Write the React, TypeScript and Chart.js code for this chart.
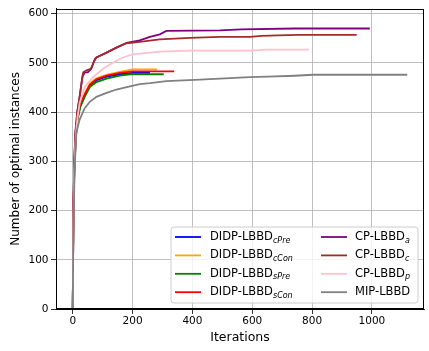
import React, { useEffect, useRef } from 'react';
import { Chart, registerables } from 'chart.js';
Chart.register(...registerables);

const FONT = "'DejaVu Sans', sans-serif";

// ---- data ----
const dCPreX = [0, 2, 5, 10, 16, 25, 40, 57, 79, 113, 157, 200, 258];
const dCPreY = [0, 178, 278, 348, 388, 413, 435, 455, 465, 472, 477, 480, 480];
const dCConX = [0, 2, 5, 10, 16, 25, 40, 57, 79, 113, 157, 200, 282];
const dCConY = [0, 180, 280, 350, 390, 415, 437, 458, 469, 476, 482, 487, 487];
const dSPreX = [0, 2, 5, 10, 16, 25, 40, 57, 79, 113, 157, 191, 240, 304];
const dSPreY = [0, 175, 275, 345, 385, 410, 431, 451, 461, 468, 474, 477, 477, 477];
const dSConX = [0, 2, 5, 10, 16, 25, 40, 57, 79, 113, 157, 200, 339];
const dSConY = [0, 185, 285, 352, 392, 418, 436, 456, 467, 474, 480, 483, 483];
const cpAX = [0, 2, 5, 9, 15, 23, 32, 40, 50, 62, 74, 79, 113, 146, 180, 224, 258, 291, 313, 492, 564, 742, 993];
const cpAY = [0, 200, 300, 360, 400, 431, 471, 481, 481, 488, 508, 511, 521, 531, 541, 546, 553, 558, 565, 566, 568, 570, 570];
const cpCX = [0, 2, 5, 9, 15, 23, 32, 35, 46, 60, 74, 79, 113, 146, 180, 224, 291, 391, 492, 592, 631, 686, 753, 949];
const cpCY = [0, 200, 300, 360, 400, 431, 471, 481, 485, 488, 506, 511, 521, 531, 540, 543, 548, 551, 553, 553, 555, 556, 557, 557];
const cpPX = [0, 2, 5, 10, 16, 23, 40, 68, 101, 135, 168, 201, 224, 291, 391, 592, 648, 789];
const cpPY = [0, 180, 280, 350, 390, 418, 451, 471, 488, 501, 511, 518, 519, 523, 525, 525, 527, 527];
const mipX = [0, 2, 5, 8, 12, 23, 40, 57, 79, 113, 146, 180, 224, 258, 313, 425, 592, 652, 742, 803, 1118];
const mipY = [0, 150, 250, 310, 358, 385, 408, 421, 431, 439, 446, 451, 457, 459, 463, 466, 471, 472, 474, 476, 476];

const xTicks = [0, 200, 400, 600, 800, 1000];
const yTicks = [0, 100, 200, 300, 400, 500, 600];

const labelMain = ['DIDP-LBBD', 'DIDP-LBBD', 'DIDP-LBBD', 'DIDP-LBBD', 'CP-LBBD', 'CP-LBBD', 'CP-LBBD', 'MIP-LBBD'];
const labelSub = ['cPre', 'cCon', 'sPre', 'sCon', 'a', 'c', 'p', ''];
const colors = ['#0000ff', '#ffa500', '#008000', '#ff0000', '#800080', '#a52a2a', '#ffc0cb', '#808080'];
const seriesX = [dCPreX, dCConX, dSPreX, dSConX, cpAX, cpCX, cpPX, mipX];
const seriesY = [dCPreY, dCConY, dSPreY, dSConY, cpAY, cpCY, cpPY, mipY];

const framePlugin = {
  id: 'frame',
  afterDatasetsDraw(chart: any) {
    const { ctx, chartArea: a } = chart;
    ctx.save();
    ctx.strokeStyle = '#000';
    ctx.lineWidth = 1;
    ctx.strokeRect(Math.round(a.left) + 0.5, Math.round(a.top) + 0.5, Math.round(a.right - a.left) - 1, Math.round(a.bottom - a.top) - 1);
    ctx.restore();
  },
};

const legendPlugin = {
  id: 'customLegend',
  afterDraw(chart: any) {
    const { ctx, chartArea: a } = chart;
    const w = 247, h = 76;
    const x0 = a.right - 6 - w, y0 = a.bottom - 6 - h;
    ctx.save();
    ctx.beginPath();
    const r = 3;
    ctx.moveTo(x0 + r, y0);
    ctx.lineTo(x0 + w - r, y0);
    ctx.quadraticCurveTo(x0 + w, y0, x0 + w, y0 + r);
    ctx.lineTo(x0 + w, y0 + h - r);
    ctx.quadraticCurveTo(x0 + w, y0 + h, x0 + w - r, y0 + h);
    ctx.lineTo(x0 + r, y0 + h);
    ctx.quadraticCurveTo(x0, y0 + h, x0, y0 + h - r);
    ctx.lineTo(x0, y0 + r);
    ctx.quadraticCurveTo(x0, y0, x0 + r, y0);
    ctx.closePath();
    ctx.fillStyle = 'rgba(255,255,255,0.8)';
    ctx.fill();
    ctx.strokeStyle = '#cccccc';
    ctx.lineWidth = 1;
    ctx.stroke();
    for (let i = 0; i < 8; i++) {
      const col = Math.floor(i / 4), row = i % 4;
      const cy = y0 + 10 + row * 18.4;
      const hx = x0 + (col === 0 ? 4 : 150);
      const tx = x0 + (col === 0 ? 39 : 184);
      ctx.strokeStyle = colors[i];
      ctx.lineWidth = 1.8;
      ctx.beginPath();
      ctx.moveTo(hx, cy);
      ctx.lineTo(hx + 26, cy);
      ctx.stroke();
      ctx.fillStyle = '#000';
      ctx.textBaseline = 'middle';
      ctx.textAlign = 'left';
      ctx.font = `11.5px ${FONT}`;
      ctx.fillText(labelMain[i], tx, cy);
      const mw = ctx.measureText(labelMain[i]).width;
      if (labelSub[i]) {
        ctx.font = `italic 8px ${FONT}`;
        ctx.fillText(labelSub[i], tx + mw, cy + 3.5);
      }
    }
    ctx.restore();
  },
};

export default function App() {
  const ref = useRef<HTMLCanvasElement>(null);
  useEffect(() => {
    document.body.style.margin = '0';
    const datasets = seriesX.map((xs, i) => ({
      label: labelMain[i] + labelSub[i],
      data: xs.map((x, j) => ({ x, y: seriesY[i][j] })),
      borderColor: colors[i],
      backgroundColor: colors[i],
      borderWidth: 1.8,
      pointRadius: 0,
      fill: false,
      tension: 0,
      order: 8 - i,
    }));
    const chart = new Chart(ref.current!, {
      type: 'line',
      data: { datasets },
      plugins: [framePlugin, legendPlugin],
      options: {
        animation: false,
        responsive: false,
        devicePixelRatio: 1,
        layout: { padding: { top: 4, right: 5, left: 0, bottom: 0 } },
        plugins: { legend: { display: false }, tooltip: { enabled: false } },
        scales: {
          x: {
            type: 'linear',
            min: -56,
            max: 1174,
            afterBuildTicks: (s: any) => { s.ticks = xTicks.map((v) => ({ value: v })); },
            afterFit: (s: any) => { s.height = 42; },
            grid: { color: '#b0b0b0', lineWidth: 0.8, tickColor: '#000', tickLength: 5, drawTicks: true },
            border: { display: true, color: '#000', width: 1 },
            ticks: { color: '#000', font: { family: FONT, size: 10.5 }, padding: 1, maxRotation: 0, autoSkip: false, callback: (v: any) => String(v) },
            title: { display: true, text: 'Iterations', color: '#000', font: { family: FONT, size: 12.5 }, padding: { top: 0, bottom: 6 } },
          },
          y: {
            type: 'linear',
            min: 0,
            max: 610,
            afterBuildTicks: (s: any) => { s.ticks = yTicks.map((v) => ({ value: v })); },
            afterFit: (s: any) => { s.width = 56; },
            grid: { color: '#b0b0b0', lineWidth: 0.8, tickColor: '#000', tickLength: 5, drawTicks: true },
            border: { display: true, color: '#000', width: 1 },
            ticks: { color: '#000', font: { family: FONT, size: 10.5 }, padding: 2.5, autoSkip: false, callback: (v: any) => String(v) },
            title: { display: true, text: 'Number of optimal instances', color: '#000', font: { family: FONT, size: 12 }, padding: { top: 9, bottom: 0 } },
          },
        },
      },
    });
    return () => chart.destroy();
  }, []);
  return (
    <div style={{ width: 429, height: 351 }}>
      <canvas ref={ref} width={429} height={351} />
    </div>
  );
}
